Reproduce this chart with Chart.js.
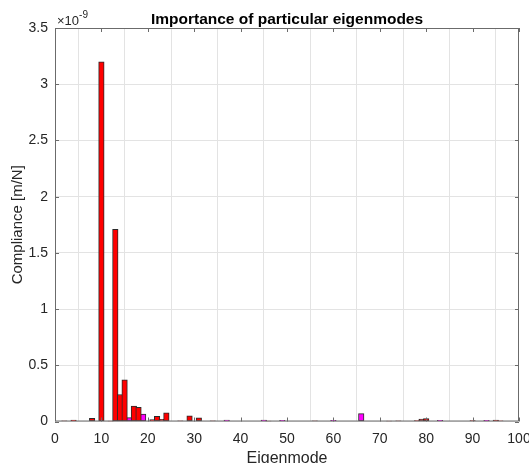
<!DOCTYPE html>
<html>
<head>
<meta charset="utf-8">
<script src="https://cdn.jsdelivr.net/npm/chart.js@4"></script>
<style>
  html, body { margin: 0; padding: 0; background: #fff; overflow: hidden; }
</style>
</head>
<body>
<canvas id="chart" width="529" height="463"></canvas>
<script>
// eigenmode numbers and compliance (x 1e-9 m/N)
let redModes = [2, 4, 8, 10, 12, 13, 14, 15, 17, 18, 21, 22, 23, 24, 27, 29, 31, 34, 46, 56, 72, 74, 78, 79, 80, 90, 95, 96]
let redVals = [0.005, 0.012, 0.028, 3.2, 0.003, 1.71, 0.24, 0.37, 0.138, 0.126, 0.016, 0.046, 0.02, 0.078, 0.005, 0.05, 0.032, 0.005, 0.004, 0.005, 0.004, 0.005, 0.008, 0.022, 0.026, 0.008, 0.013, 0.006]
let magModes = [16, 19, 37, 45, 49, 60, 66, 83, 93]
let magVals = [0.034, 0.067, 0.012, 0.012, 0.01, 0.01, 0.07, 0.01, 0.01]

let xTicks = [0, 10, 20, 30, 40, 50, 60, 70, 80, 90, 100]
let yTicks = [0, 0.5, 1, 1.5, 2, 2.5, 3, 3.5]

const FONT = '"Liberation Sans", Arial, Helvetica, sans-serif'
const AXIS = '#6b6b6b'

function pts(modes, vals) {
  let out = []
  for (let i = 0; i < modes.length; i++) out.push({ x: modes[i], y: vals[i] })
  return out
}

// box, inward ticks, title and exponent label (MATLAB look)
const matlabAxes = {
  id: 'matlabAxes',
  afterDraw(chart) {
    const ctx = chart.ctx
    const a = chart.chartArea
    const xs = chart.scales.x, ys = chart.scales.y
    ctx.save()
    ctx.strokeStyle = AXIS
    ctx.lineWidth = 1
    ctx.beginPath()
    ctx.rect(a.left + 0.5, a.top + 0.5, a.right - a.left - 1, a.bottom - a.top - 1)
    for (let v of xTicks) {
      let px = Math.round(xs.getPixelForValue(v)) + 0.5
      ctx.moveTo(px, a.bottom); ctx.lineTo(px, a.bottom - 4)
      ctx.moveTo(px, a.top); ctx.lineTo(px, a.top + 4)
    }
    for (let v of yTicks) {
      let py = Math.round(ys.getPixelForValue(v)) + 0.5
      ctx.moveTo(a.left, py); ctx.lineTo(a.left + 4, py)
      ctx.moveTo(a.right, py); ctx.lineTo(a.right - 4, py)
    }
    ctx.stroke()

    ctx.fillStyle = '#000'
    ctx.font = 'bold 15.5px ' + FONT
    ctx.textAlign = 'center'
    ctx.textBaseline = 'alphabetic'
    ctx.fillText('Importance of particular eigenmodes', (a.left + a.right) / 2, 24)

    ctx.fillStyle = '#262626'
    ctx.textAlign = 'left'
    ctx.font = '13px ' + FONT
    ctx.fillText('\u00d710', a.left + 2, 25)
    let w = ctx.measureText('\u00d710').width
    ctx.font = '10px ' + FONT
    ctx.fillText('-9', a.left + 2 + w, 18)
    ctx.restore()
  }
}

new Chart(document.getElementById('chart'), {
  type: 'bar',
  data: {
    datasets: [
      { data: pts(redModes, redVals), backgroundColor: '#ff0000', borderColor: '#2a2a2a', borderWidth: 1, borderSkipped: false, grouped: false },
      { data: pts(magModes, magVals), backgroundColor: '#ff00ff', borderColor: '#2a2a2a', borderWidth: 1, borderSkipped: false, grouped: false }
    ]
  },
  options: {
    responsive: false,
    animation: false,
    layout: { padding: { left: 0, right: 10, top: 28, bottom: 0 } },
    datasets: { bar: { barThickness: 5.5 } },
    plugins: { legend: { display: false }, tooltip: { enabled: false }, title: { display: false } },
    scales: {
      x: {
        type: 'linear',
        offset: false,
        min: 0, max: 100,
        afterFit(s) { s.height = 41.5; s.paddingLeft = 0; s.paddingRight = 0 },
        afterBuildTicks(s) { s.ticks = xTicks.map(v => ({ value: v })) },
        ticks: { color: '#262626', font: { family: FONT, size: 14 }, padding: 9, maxRotation: 0 },
        grid: { color: '#e3e3e3', drawTicks: false },
        border: { display: false },
        title: { display: true, text: 'Eigenmode', color: '#262626', font: { family: FONT, size: 16, lineHeight: 0.6 }, padding: 0 }
      },
      y: {
        min: 0, max: 3.5,
        afterFit(s) { s.width = 55; s.paddingTop = 0; s.paddingBottom = 0 },
        afterBuildTicks(s) { s.ticks = yTicks.map(v => ({ value: v })) },
        ticks: { color: '#262626', font: { family: FONT, size: 14 }, padding: 7, callback: v => String(v) },
        grid: { color: '#e3e3e3', drawTicks: false },
        border: { display: false },
        title: { display: true, text: 'Compliance [m/N]', color: '#262626', font: { family: FONT, size: 15 }, padding: { top: 9, bottom: 0 } }
      }
    }
  },
  plugins: [matlabAxes]
})
</script>
</body>
</html>
